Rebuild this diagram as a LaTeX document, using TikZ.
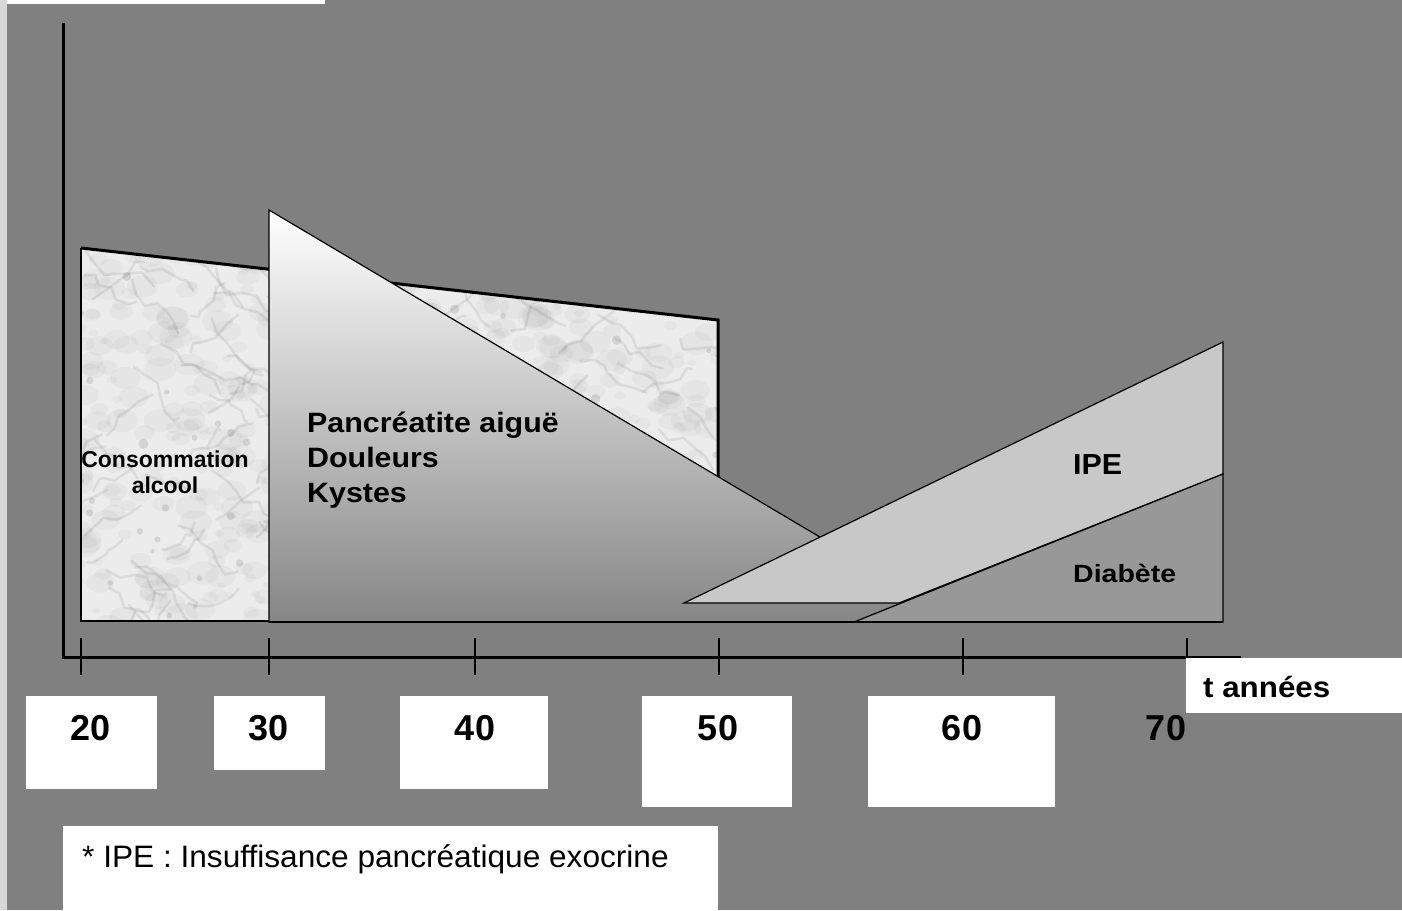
\documentclass[tikz,border=0pt]{standalone}
\usepackage{fontspec}
\usepackage{graphicx}
\setmainfont{Liberation Sans}
\definecolor{bg}{RGB}{128,128,128}
\definecolor{marble}{RGB}{236,236,236}
\definecolor{tribot}{RGB}{134,134,134}
\definecolor{ipefill}{RGB}{200,200,200}
\definecolor{diafill}{RGB}{152,152,152}
\definecolor{edgestrip}{RGB}{215,215,215}
\begin{document}
\begin{tikzpicture}[x=1pt,y=-1pt,
  wbox/.style={fill=white, draw=none, inner sep=0pt},
  shapeedge/.style={draw=black, line width=1.2pt, line join=miter},
  numlbl/.style={font=\fontsize{36}{40}\selectfont\bfseries, inner sep=0pt, anchor=base},
  axisline/.style={draw=black, line width=3pt},
  tickline/.style={draw=black, line width=1.1pt},
  vein/.style={draw=black, opacity=0.07, line width=2.6pt, line cap=round, line join=round}
]
% background
\path[use as bounding box, fill=bg] (0,0) rectangle (1402,910);
\fill[white] (7,0) rectangle (325,4);
\fill[edgestrip] (0,0) rectangle (7,910);

% marble block (Consommation alcool)
\coordinate (mTL) at (81,248);
\coordinate (mTR) at (718,320);
\coordinate (mBR) at (718,621);
\coordinate (mBL) at (81,621);
\begin{scope}
  \clip (mTL) -- (mTR) -- (mBR) -- (mBL) -- cycle;
  \fill[marble] (70,240) rectangle (730,630);
  \pgfmathsetseed{11}
  \foreach \i in {1,...,700} {
    \pgfmathsetmacro\xa{75+650*rnd}
    \pgfmathsetmacro\ya{240+390*rnd}
    \pgfmathsetmacro\rr{3+9*rnd}
    \fill[black, opacity=0.028] (\xa,\ya) ellipse ({\rr*1.4 pt} and {\rr pt});
  }
  \foreach \i in {1,...,90} {
    \pgfmathsetmacro\xa{75+650*rnd}
    \pgfmathsetmacro\ya{240+390*rnd}
    \draw[vein] (\xa,\ya) -- ++({9+7*rand},{6+9*rand}) -- ++({9+7*rand},{6+9*rand})
      -- ++({9+7*rand},{6+9*rand}) -- ++({9+7*rand},{6+9*rand}) -- ++({9+7*rand},{6+9*rand})
      -- ++({9+7*rand},{6+9*rand});
  }
  \foreach \i in {1,...,60} {
    \pgfmathsetmacro\xa{75+650*rnd}
    \pgfmathsetmacro\ya{240+390*rnd}
    \draw[vein] (\xa,\ya) -- ++({-9+7*rand},{6+9*rand}) -- ++({-9+7*rand},{6+9*rand})
      -- ++({-9+7*rand},{6+9*rand}) -- ++({-9+7*rand},{6+9*rand}) -- ++({-9+7*rand},{6+9*rand});
  }
  \foreach \i in {1,...,60} {
    \pgfmathsetmacro\xa{75+650*rnd}
    \pgfmathsetmacro\ya{240+390*rnd}
    \pgfmathsetmacro\rr{2+3*rnd}
    \fill[black, opacity=0.10] (\xa,\ya) circle (\rr pt);
  }
\end{scope}
\draw[black, line width=3pt, line join=miter] (mTL) -- (mTR) -- (mBR);
\draw[black, line width=2pt] (mTL) -- (mBL) -- (mBR);

% gradient triangle
\coordinate (tA) at (269,210);
\coordinate (tB) at (269,622);
\coordinate (tC) at (963,622);
\shade[top color=white, bottom color=tribot] (tA) -- (tB) -- (tC) -- cycle;
\draw[shapeedge] (tA) -- (tB) -- (tC) -- cycle;

% IPE band
\coordinate (iA) at (684,603);
\coordinate (iB) at (1223,342);
\coordinate (iC) at (1223,474);
\coordinate (iD) at (899,603);
\filldraw[fill=ipefill, shapeedge] (iA) -- (iB) -- (iC) -- (iD) -- cycle;

% Diabete triangle
\coordinate (dA) at (854,622);
\coordinate (dB) at (1223,474);
\coordinate (dC) at (1223,622);
\filldraw[fill=diafill, shapeedge] (dA) -- (dB) -- (dC) -- cycle;
\draw[black, line width=1.6pt] (tB) -- (dC);

% axes
\coordinate (yTop) at (63,23);
\coordinate (orig) at (63,657);
\coordinate (x70) at (1187,657);
\coordinate (xEnd) at (1241,657);
\draw[axisline] (yTop) -- (orig) -- (x70);
\draw[black, line width=1.5pt] (x70) -- (xEnd);
\foreach \tx/\nm in {81/t20, 269/t30, 475/t40, 719/t50, 963/t60, 1187/t70} {
  \coordinate (\nm a) at (\tx,638);
  \coordinate (\nm b) at (\tx,675);
  \draw[tickline] (\nm a) -- (\nm b);
}

% label boxes
\node[wbox, minimum width=131pt, minimum height=93pt] (b20) at (91.5,742.5) {};
\node[wbox, minimum width=111pt, minimum height=74pt] (b30) at (269,733) {};
\node[wbox, minimum width=148pt, minimum height=93pt] (b40) at (474,742.5) {};
\node[wbox, minimum width=150pt, minimum height=111pt] (b50) at (717,751.5) {};
\node[wbox, minimum width=187pt, minimum height=111pt] (b60) at (961.5,751.5) {};
\node[wbox, minimum width=216pt, minimum height=55pt] (bt) at (1294,685.5) {};
\node[wbox, minimum width=655pt, minimum height=84pt] (bfoot) at (390.5,868) {};

\node[numlbl] (l20) at (91,740) {20};
\node[numlbl] (l30) at (269,740) {30};
\node[numlbl] (l40) at (475,740) {40};
\node[numlbl] (l50) at (718,740) {50};
\node[numlbl] (l60) at (962,740) {60};
\node[numlbl] (l70) at (1166,740) {70};

\node[inner sep=0pt, anchor=base west, font=\fontsize{29}{34}\selectfont\bfseries\addfontfeatures{FakeStretch=1.08}] (lt) at (1203,697) {t années};

\node[inner sep=0pt, anchor=base west, font=\fontsize{31}{36}\selectfont\addfontfeatures{FakeStretch=1.02}] (lfoot) at (82,867) {* IPE : Insuffisance pancréatique exocrine};

% shape labels
\node[inner sep=0pt, anchor=base, font=\fontsize{23}{26}\selectfont\bfseries] (lcons1) at (165,467) {Consommation};
\node[inner sep=0pt, anchor=base, font=\fontsize{23}{26}\selectfont\bfseries] (lcons2) at (165,493) {alcool};

\node[inner sep=0pt, anchor=base west, font=\fontsize{28}{34}\selectfont\bfseries\addfontfeatures{FakeStretch=1.085}] (lpa) at (307,432) {Pancréatite aiguë};
\node[inner sep=0pt, anchor=base west, font=\fontsize{28}{34}\selectfont\bfseries\addfontfeatures{FakeStretch=1.085}] (ldo) at (307,467) {Douleurs};
\node[inner sep=0pt, anchor=base west, font=\fontsize{28}{34}\selectfont\bfseries\addfontfeatures{FakeStretch=1.085}] (lky) at (307,502) {Kystes};

\node[inner sep=0pt, anchor=base west, font=\fontsize{29}{34}\selectfont\bfseries\addfontfeatures{FakeStretch=1.05}] (lipe) at (1073,474) {IPE};
\node[inner sep=0pt, anchor=base west, font=\fontsize{25}{30}\selectfont\bfseries\addfontfeatures{FakeStretch=1.14}] (ldia) at (1073,582) {Diabète};
\end{tikzpicture}
\end{document}
